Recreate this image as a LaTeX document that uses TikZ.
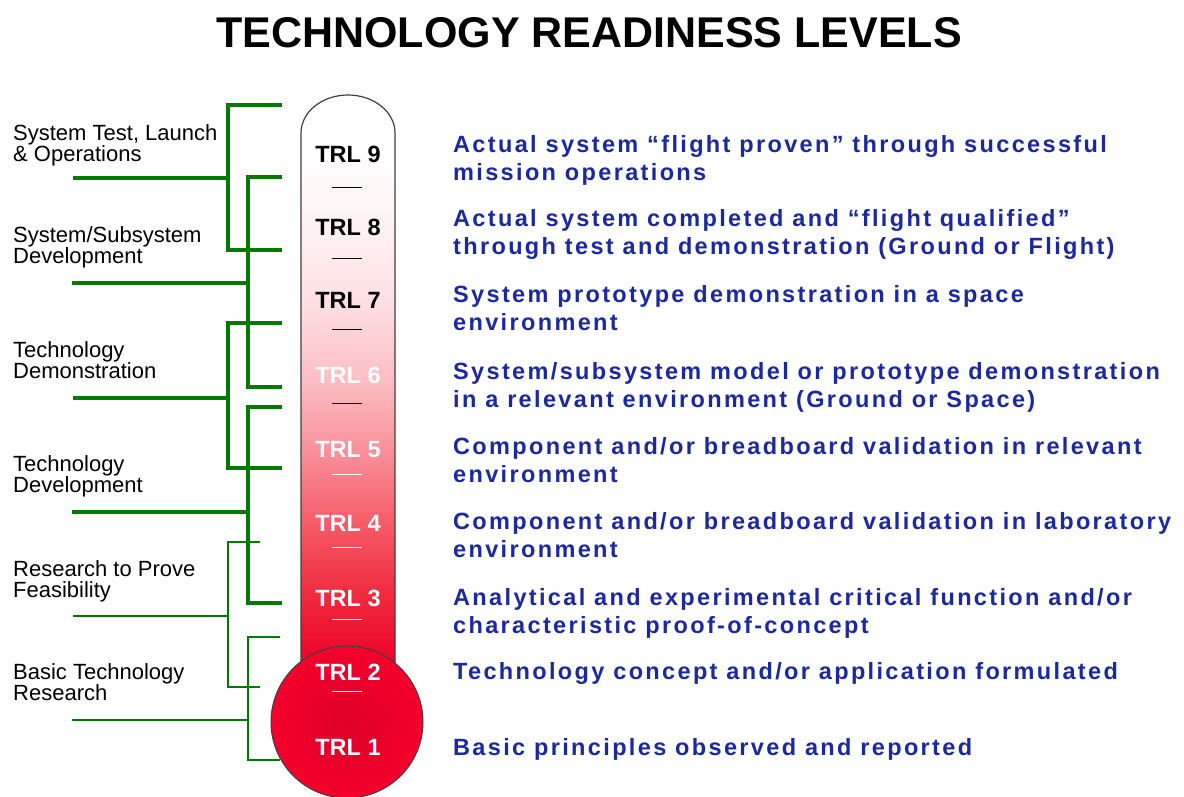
\documentclass[tikz,border=0pt]{standalone}
\usepackage{fontspec}
\setmainfont{Liberation Sans}
\newfontfamily\descfont[LetterSpace=10]{Liberation Sans}
\usetikzlibrary{positioning}

\definecolor{trlgreen}{RGB}{0,122,0}
\definecolor{trlblue}{RGB}{28,40,160}
\definecolor{trlred}{RGB}{238,0,40}
\definecolor{bulbcore}{RGB}{222,0,40}
\definecolor{bulbedge}{RGB}{244,0,44}
% thermometer stops, bottom to top
\definecolor{thA}{RGB}{240,40,60}
\definecolor{thB}{RGB}{245,92,104}
\definecolor{thC}{RGB}{249,145,155}
\definecolor{thD}{RGB}{252,192,198}
\definecolor{thE}{RGB}{254,224,227}
\definecolor{thF}{RGB}{255,242,243}
\pgfdeclareverticalshading{thermofill}{100bp}{color(0bp)=(trlred); color(25bp)=(trlred); color(31bp)=(thA); color(37.6bp)=(thB); color(44bp)=(thC); color(50.5bp)=(thD); color(57bp)=(thE); color(63.5bp)=(thF); color(70bp)=(white); color(100bp)=(white)}

\begin{document}
\begin{tikzpicture}[
    x=1pt, y=-1pt,
    title/.style={font=\bfseries\fontsize{43}{43}\selectfont, inner sep=0pt},
    phase/.style={font=\fontsize{22}{21}\selectfont, align=left, anchor=base west, inner sep=0pt},
    trl/.style={font=\bfseries\fontsize{23.5}{24}\selectfont, inner sep=0pt},
    desc/.style={font=\descfont\bfseries\fontsize{23.5}{28}\selectfont, text=trlblue, align=left, anchor=base west, inner sep=0pt},
    bracket/.style={draw=trlgreen, line width=3.2pt},
    tick/.style={line width=1pt},
    tube/.style={draw=black!75, line width=1.2pt, shading=thermofill},
    bulb/.style={draw=black!75, line width=1pt, inner color=bulbcore, outer color=bulbedge},
]
\fill[white] (0,0) rectangle (1184,796);
\useasboundingbox (0,0) rectangle (1184,796);

%% TITLE
    \node[title] (title) at (589,33) {TECHNOLOGY READINESS LEVELS};

%% THERMOMETER
    % tube
    \draw[tube] (301,667) -- (301,133) arc[start angle=180, end angle=360, x radius=47, y radius=38] -- (395,667);
    % bulb
    \draw[bulb] (347,722) circle[radius=76];

    % levels
    \node[trl] (trl9) at (348,154) {TRL 9};
    \node[trl] (trl8) at (348,227) {TRL 8};
    \node[trl] (trl7) at (348,300) {TRL 7};
    \node[trl, text=white] (trl6) at (348,375) {TRL 6};
    \node[trl, text=white] (trl5) at (348,450) {TRL 5};
    \node[trl, text=white] (trl4) at (348,523) {TRL 4};
    \node[trl, text=white] (trl3) at (348,598) {TRL 3};
    \node[trl, text=white] (trl2) at (348,672) {TRL 2};
    \node[trl, text=white] (trl1) at (348,747) {TRL 1};

    % separators
    \draw[tick] (332,187) -- (362,187);
    \draw[tick] (332,258) -- (362,258);
    \draw[tick] (332,329) -- (362,329);
    \draw[tick] (332,403) -- (362,403);
    \draw[tick, white] (332,474) -- (362,474);
    \draw[tick, white] (332,547) -- (362,547);
    \draw[tick, white] (332,619) -- (362,619);
    \draw[tick, white] (332,691) -- (362,691);

%% DESCRIPTIONS (placed at the baseline of the last line)
    \node[desc] (desc9) at (453,180) {Actual system “flight proven” through successful\\mission operations};
    \node[desc] (desc8) at (453,254) {Actual system completed and “flight qualified”\\through test and demonstration (Ground or Flight)};
    \node[desc] (desc7) at (453,330) {System prototype demonstration in a space\\environment};
    \node[desc] (desc6) at (453,407) {System/subsystem model or prototype demonstration\\in a relevant environment (Ground or Space)};
    \node[desc] (desc5) at (453,482) {Component and/or breadboard validation in relevant\\environment};
    \node[desc] (desc4) at (453,557) {Component and/or breadboard validation in laboratory\\environment};
    \node[desc] (desc3) at (453,633) {Analytical and experimental critical function and/or\\characteristic proof-of-concept};
    \node[desc] (desc2) at (453,679) {Technology concept and/or application formulated};
    \node[desc] (desc1) at (453,755) {Basic principles observed and reported};

%% PHASES
    \node[phase] (ops) at (13,161) {System Test, Launch\\\& Operations};
    \node[phase] (sysdev) at (13,263) {System/Subsystem\\Development};
    \node[phase] (demo) at (13,378) {Technology\\Demonstration};
    \node[phase] (techdev) at (13,492) {Technology\\Development};
    \node[phase] (feas) at (13,597) {Research to Prove\\Feasibility};
    \node[phase] (basic) at (13,700) {Basic Technology\\Research};

%% BRACKETS
    % system test, launch & operations: TRL 9 -- TRL 8
    \coordinate (ops_top) at (282,105);
    \coordinate (ops_bot) at (282,250);
    \coordinate (ops_tail) at (73,178);
    \draw[bracket] (ops_top) -- ++(-54,0) |- (ops_bot);
    \draw[bracket] (ops_tail) -- ++(155,0);

    % system/subsystem development: TRL 8 -- TRL 6
    \coordinate (sysdev_top) at (282,177);
    \coordinate (sysdev_bot) at (282,387);
    \coordinate (sysdev_tail) at (72,283);
    \draw[bracket] (sysdev_top) -- ++(-34,0) |- (sysdev_bot);
    \draw[bracket] (sysdev_tail) -- ++(176,0);

    % technology demonstration: TRL 7 -- TRL 5
    \coordinate (demo_top) at (282,323);
    \coordinate (demo_bot) at (282,468);
    \coordinate (demo_tail) at (73,398);
    \draw[bracket] (demo_top) -- ++(-54,0) |- (demo_bot);
    \draw[bracket] (demo_tail) -- ++(155,0);

    % technology development: TRL 6 -- TRL 3
    \coordinate (techdev_top) at (282,407);
    \coordinate (techdev_bot) at (282,603);
    \coordinate (techdev_tail) at (72,512);
    \draw[bracket] (techdev_top) -- ++(-34,0) |- (techdev_bot);
    \draw[bracket] (techdev_tail) -- ++(176,0);

    % research to prove feasibility: TRL 4 -- TRL 2
    \coordinate (feas_top) at (260,542);
    \coordinate (feas_bot) at (260,687);
    \coordinate (feas_tail) at (73,616);
    \draw[bracket, line width=2.6pt] (feas_top) -- ++(-32,0) |- (feas_bot);
    \draw[bracket, line width=2.6pt] (feas_tail) -- ++(155,0);

    % basic technology research: TRL 3 -- TRL 1
    \coordinate (basic_top) at (280,637);
    \coordinate (basic_bot) at (280,760);
    \coordinate (basic_tail) at (72,720);
    \draw[bracket, line width=2.2pt] (basic_top) -- ++(-32,0) |- (basic_bot);
    \draw[bracket, line width=2.2pt] (basic_tail) -- ++(176,0);

\end{tikzpicture}
\end{document}
